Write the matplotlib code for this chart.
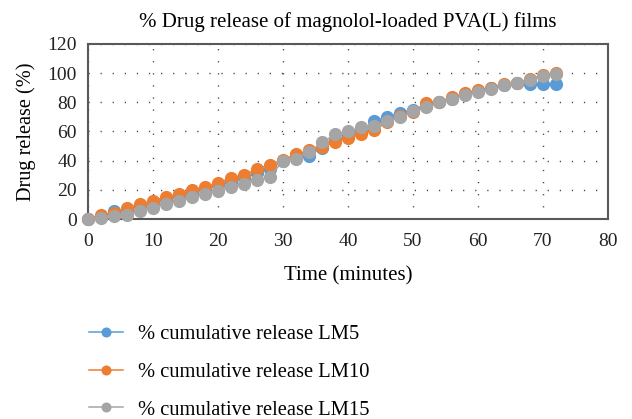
import numpy as np
import matplotlib
matplotlib.use('agg')
import matplotlib.pyplot as plt

# time points (minutes)
time_min = list(range(0, 73, 2))

# % cumulative release
lm5 = [0, 1.5, 5.5, 6.5, 9, 11, 13.5, 15.5, 18, 20.5, 23, 25.5, 28, 31.5, 34.2,
       39.8, 41.5, 43.5, 49, 54, 57, 60, 67.5, 69.8, 72.8, 75, 77.8, 80, 82.5,
       85.5, 87.8, 89.7, 91.9, 93, 92.6, 92.6, 92.6]
lm10 = [0, 2.7, 4.3, 7.6, 10.2, 12.5, 15.2, 17, 19.8, 22, 24.8, 28.2, 30.2, 34.2,
        37.3, 40.7, 44.3, 47, 49.5, 52.8, 55.5, 58.6, 60.9, 66.5, 70.5, 73.2, 79.8,
        80.5, 83.5, 86.2, 88.5, 90.1, 92.4, 93.5, 95.8, 98.8, 99.9]
lm15 = [0, 0.5, 1.8, 2.7, 5.5, 7.7, 10.2, 12.5, 14.8, 17, 19.3, 21.6, 23.9, 26.5,
        28.8, 40, 41.4, 45.8, 52.5, 58, 60, 62.8, 63.6, 67.5, 69.8, 73.9, 76.5,
        79.9, 82.3, 85, 87.3, 89.2, 91.9, 93.5, 95.3, 98, 99.2]

labels = ['% cumulative release LM5', '% cumulative release LM10', '% cumulative release LM15']
colors = ['#5B9BD5', '#ED7D31', '#A5A5A5']

plt.rcParams['font.family'] = ['Liberation Serif', 'DejaVu Serif']
plt.rcParams['font.size'] = 12

fig = plt.figure(figsize=(6.32, 4.19), dpi=100)
ax = fig.add_axes([88 / 632, 1 - 219 / 419, 520 / 632, 175 / 419])

for ys, lab, c in zip([lm5, lm10, lm15], labels, colors):
    ax.plot(time_min, ys, color=c, lw=1.1, marker='o', markersize=9.5,
            markeredgewidth=0, label=lab, clip_on=False, zorder=3)

ax.set_xlim(0, 80)
ax.set_ylim(0, 120)
ax.set_xticks(np.arange(0, 81, 10))
ax.set_yticks(np.arange(0, 121, 20))
ax.tick_params(length=0, labelsize=14, colors='#222222')
ax.tick_params(axis='x', pad=10)
ax.tick_params(axis='y', pad=8)
ax.grid(True, color='#444444', lw=1.0, linestyle=(0, (0.9, 7.8)))
for s in ax.spines.values():
    s.set_color('#595959')
    s.set_linewidth(1.5)

ax.set_title('% Drug release of magnolol-loaded PVA(L) films', fontsize=15, pad=12)
ax.set_xlabel('Time (minutes)', fontsize=15, labelpad=12)
ax.set_ylabel('Drug release (%)', fontsize=14.6, labelpad=8)

handles, labs = ax.get_legend_handles_labels()
fig.legend(handles, labs, loc='upper left', bbox_to_anchor=(70 / 632, 1 - 306 / 419),
           frameon=False, fontsize=14.8, handlelength=1.7, handletextpad=0.7,
           labelspacing=0.9, markerscale=0.76)

fig.savefig('out.png', dpi=100)
